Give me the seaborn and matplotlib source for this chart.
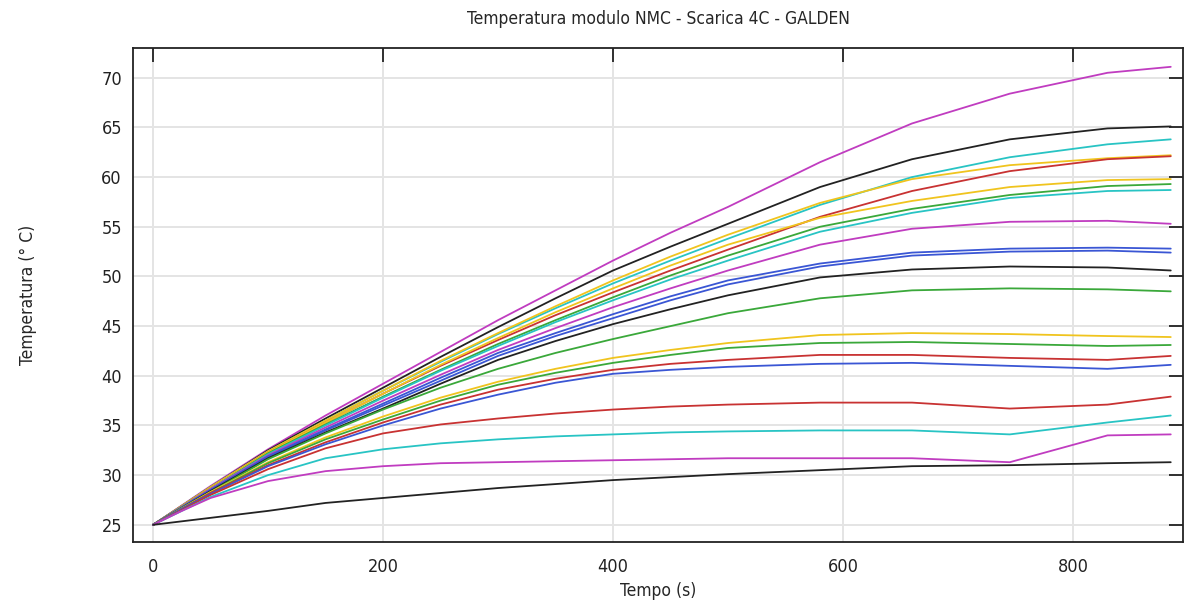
import pandas as pd
import seaborn as sns
import matplotlib.pyplot as plt

# time nodes (s)
tempo = [0, 25, 50, 100, 150, 200, 250, 300, 350, 400, 450, 500, 580, 660, 745, 830, 885]

# temperature curves (deg C)
m1 = [25, 26.95, 28.9, 32.6, 36.0, 39.2, 42.4, 45.6, 48.6, 51.6, 54.4, 57.0, 61.5, 65.4, 68.4, 70.5, 71.1]
k1 = [25, 26.9, 28.8, 32.5, 35.7, 38.8, 41.9, 44.9, 47.8, 50.6, 53.0, 55.3, 59.0, 61.8, 63.8, 64.9, 65.1]
c1 = [25, 26.9, 28.8, 32.4, 35.5, 38.5, 41.4, 44.2, 46.8, 49.3, 51.6, 53.8, 57.2, 60.0, 62.0, 63.3, 63.8]
y1 = [25, 26.9, 28.8, 32.4, 35.5, 38.5, 41.5, 44.3, 47.0, 49.6, 52.0, 54.2, 57.4, 59.8, 61.2, 61.9, 62.2]
r1 = [25, 26.85, 28.7, 32.3, 35.3, 38.2, 41.0, 43.6, 46.1, 48.4, 50.6, 52.7, 56.0, 58.6, 60.6, 61.8, 62.1]
y2 = [25, 26.85, 28.7, 32.3, 35.3, 38.2, 41.1, 43.8, 46.4, 48.8, 51.1, 53.2, 55.9, 57.6, 59.0, 59.7, 59.8]
g1 = [25, 26.8, 28.6, 32.2, 35.1, 37.9, 40.6, 43.2, 45.6, 47.9, 50.1, 52.1, 55.0, 56.8, 58.2, 59.1, 59.3]
c2 = [25, 26.8, 28.6, 32.1, 35.0, 37.8, 40.5, 43.0, 45.4, 47.6, 49.7, 51.6, 54.5, 56.4, 57.9, 58.6, 58.7]
m2 = [25, 26.8, 28.6, 32.0, 34.8, 37.5, 40.1, 42.6, 44.8, 46.9, 48.8, 50.6, 53.2, 54.8, 55.5, 55.6, 55.3]
b1 = [25, 26.75, 28.5, 31.9, 34.6, 37.2, 39.8, 42.3, 44.3, 46.2, 48.0, 49.6, 51.3, 52.4, 52.8, 52.9, 52.8]
b2 = [25, 26.75, 28.5, 31.8, 34.5, 37.0, 39.5, 42.0, 44.0, 45.8, 47.6, 49.2, 51.0, 52.1, 52.5, 52.6, 52.4]
k2 = [25, 26.7, 28.4, 31.7, 34.3, 36.7, 39.2, 41.6, 43.5, 45.2, 46.7, 48.1, 49.9, 50.7, 51.0, 50.9, 50.6]
g2 = [25, 26.7, 28.3, 31.6, 34.2, 36.6, 38.8, 40.7, 42.3, 43.7, 45.0, 46.3, 47.8, 48.6, 48.8, 48.7, 48.5]
y3 = [25, 26.65, 28.3, 31.3, 33.8, 35.9, 37.8, 39.4, 40.7, 41.8, 42.6, 43.3, 44.1, 44.3, 44.2, 44.0, 43.9]
g3 = [25, 26.6, 28.2, 31.2, 33.6, 35.6, 37.5, 39.1, 40.3, 41.3, 42.1, 42.8, 43.3, 43.4, 43.2, 43.0, 43.1]
r2 = [25, 26.6, 28.2, 31.0, 33.3, 35.3, 37.1, 38.6, 39.7, 40.6, 41.2, 41.6, 42.1, 42.1, 41.8, 41.6, 42.0]
b3 = [25, 26.6, 28.1, 30.9, 33.1, 35.0, 36.7, 38.1, 39.3, 40.2, 40.6, 40.9, 41.2, 41.3, 41.0, 40.7, 41.1]
r3 = [25, 26.5, 28.0, 30.6, 32.7, 34.2, 35.1, 35.7, 36.2, 36.6, 36.9, 37.1, 37.3, 37.3, 36.7, 37.1, 37.9]
c3 = [25, 26.4, 27.8, 30.0, 31.7, 32.6, 33.2, 33.6, 33.9, 34.1, 34.3, 34.4, 34.5, 34.5, 34.1, 35.3, 36.0]
m3 = [25, 26.4, 27.7, 29.4, 30.4, 30.9, 31.2, 31.3, 31.4, 31.5, 31.6, 31.7, 31.7, 31.7, 31.3, 34.0, 34.1]
k3 = [25, 25.35, 25.7, 26.4, 27.2, 27.7, 28.2, 28.7, 29.1, 29.5, 29.8, 30.1, 30.5, 30.9, 31.0, 31.2, 31.3]

curves = {"m1": m1, "k1": k1, "c1": c1, "y1": y1, "r1": r1, "y2": y2, "g1": g1,
          "c2": c2, "m2": m2, "b1": b1, "b2": b2, "k2": k2, "g2": g2, "y3": y3,
          "g3": g3, "r2": r2, "b3": b3, "r3": r3, "c3": c3, "m3": m3, "k3": k3}

# comsol-like colours
col = {"b": "#3a56d4", "g": "#3aa83a", "r": "#c83232", "c": "#28c4c4",
       "m": "#c03cc0", "y": "#f0c41e", "k": "#222222"}
palette = {name: col[name[0]] for name in curves}

df = pd.concat([pd.DataFrame({"t": tempo, "T": vals, "curve": name})
                for name, vals in curves.items()], ignore_index=True)

sns.set_style("white")
plt.rcParams["font.family"] = ["DejaVu Sans"]
plt.rcParams["font.stretch"] = "condensed"

fig = plt.figure(figsize=(11.89, 6.07), dpi=100)
ax = fig.add_axes([0.1119, 0.1076, 0.8831, 0.8134])

sns.lineplot(data=df, x="t", y="T", hue="curve", palette=palette,
             legend=False, sort=False, linewidth=1.3, ax=ax)

ax.set_xlim(-17.4, 895.7)
ax.set_ylim(23.3, 73.0)
ax.set_xticks([0, 200, 400, 600, 800])
ax.set_yticks([25, 30, 35, 40, 45, 50, 55, 60, 65, 70])
ax.grid(True, color="#e4e4e4", linewidth=1.4)
ax.set_axisbelow(True)
for s in ax.spines.values():
    s.set_color("#222222")
    s.set_linewidth(1.3)
ax.tick_params(direction="in", length=10, width=1.3, top=True, right=True,
               labelsize=13, colors="#222222")
ax.tick_params(axis="x", pad=12)
ax.tick_params(axis="y", pad=8)

ax.set_title("Temperatura modulo NMC - Scarica 4C - GALDEN", fontsize=12.5, pad=17)
ax.set_xlabel("Tempo (s)", fontsize=12.5, labelpad=4)
ax.set_ylabel("Temperatura (° C)", fontsize=12.5, labelpad=46)

fig.savefig("out.png", dpi=100)
